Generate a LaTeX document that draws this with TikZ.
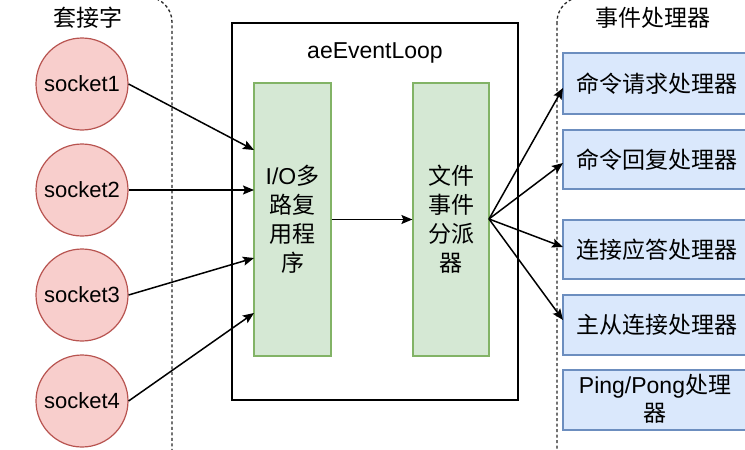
\documentclass[tikz,border=0pt]{standalone}
\usepackage{fontspec}
\setmainfont{Liberation Sans}
\newfontfamily\cjk{Noto Sans CJK SC}
\usetikzlibrary{arrows.meta}
\definecolor{redfill}{HTML}{F8CECC}
\definecolor{redline}{HTML}{B85450}
\definecolor{greenfill}{HTML}{D5E8D4}
\definecolor{greenline}{HTML}{82B366}
\definecolor{bluefill}{HTML}{DAE8FC}
\definecolor{blueline}{HTML}{6C8EBF}
\tikzset{
  sock/.style={circle, draw=redline, fill=redfill, line width=1.2pt, minimum size=92pt, inner sep=0pt, font=\fontsize{22}{27}\selectfont},
  greenbox/.style={draw=greenline, fill=greenfill, line width=1.2pt, inner sep=0pt, align=center, font=\fontsize{23}{29}\selectfont\cjk},
  handler/.style={draw=blueline, fill=bluefill, line width=1.2pt, inner sep=0pt, align=center, font=\fontsize{23}{28}\selectfont\cjk},
  lane/.style={draw=black!85, line width=1.3pt, dash pattern=on 3pt off 2.5pt, rounded corners=25pt},
  conn/.style={line width=1.5pt, -{Stealth[length=11pt,width=9pt,inset=2pt]}},
  title/.style={font=\fontsize{23}{28}\selectfont\cjk, inner sep=0pt}
}
\begin{document}
\begin{tikzpicture}[x=1pt,y=-1pt]
\useasboundingbox (0,0) rectangle (745,450);
\begin{scope}
\clip (0,0) rectangle (745,450);
% swimlanes
\draw[lane] (-40,-3) rectangle (172,480);
\draw[lane] (557,-3) rectangle (800,480);
\node[title] (t1) at (88,18) {套接字};
\node[title] (t2) at (653,18) {事件处理器};
% event loop
\node[draw=black, line width=1.4pt, minimum width=286pt, minimum height=377pt, inner sep=0pt] (loop) at (375,211.5) {};
\node[font=\fontsize{23}{28}\selectfont, inner sep=0pt] (lt) at (375,53) {aeEventLoop};
\node[greenbox, minimum width=77pt, minimum height=273pt] (io) at (292.5,219.5) {};
\node[font=\fontsize{23}{29}\selectfont\cjk, align=center, inner sep=0pt] (iot) at (292.5,219) {{\rmfamily I/O}多\\路复\\用程\\序};
\node[greenbox, minimum width=76pt, minimum height=273pt] (disp) at (451,219.5) {};
\node[font=\fontsize{23}{29}\selectfont\cjk, align=center, inner sep=0pt] (dispt) at (451,219) {文件\\事件\\分派\\器};
% sockets
\node[sock] (s1) at (82,84) {socket1};
\node[sock] (s2) at (82,190) {socket2};
\node[sock] (s3) at (82,295) {socket3};
\node[sock] (s4) at (82,401) {socket4};
% handlers
\node[handler, minimum width=187pt, minimum height=61pt] (h1) at (656.5,83.5) {命令请求处理器};
\node[handler, minimum width=187pt, minimum height=59pt] (h2) at (656.5,159.5) {命令回复处理器};
\node[handler, minimum width=187pt, minimum height=59pt] (h3) at (656.5,249.5) {连接应答处理器};
\node[handler, minimum width=187pt, minimum height=60pt] (h4) at (656.5,325) {主从连接处理器};
\node[handler, minimum width=187pt, minimum height=60pt] (h5) at (656.5,400) {};
\node[font=\fontsize{23}{28}\selectfont\cjk, align=center, inner sep=0pt] (h5t) at (655,399) {{\rmfamily Ping/Pong}处理\\器};
% connectors
\coordinate (i1) at (254,150);
\coordinate (i2) at (254,190);
\coordinate (i3) at (254,258);
\coordinate (i4) at (254,313);
\draw[conn] (s1.east) -- (i1);
\draw[conn] (s2.east) -- (i2);
\draw[conn] (s3.east) -- (i3);
\draw[conn] (s4.east) -- (i4);
\draw[conn] (io.east) -- (disp.west);
\coordinate (d) at (489,219);
\coordinate (e1) at (563,88);
\coordinate (e2) at (563,163);
\coordinate (e3) at (563,247);
\coordinate (e4) at (563,320);
\draw[conn] (d) -- (e1);
\draw[conn] (d) -- (e2);
\draw[conn] (d) -- (e3);
\draw[conn] (d) -- (e4);
\end{scope}
\end{tikzpicture}
\end{document}
